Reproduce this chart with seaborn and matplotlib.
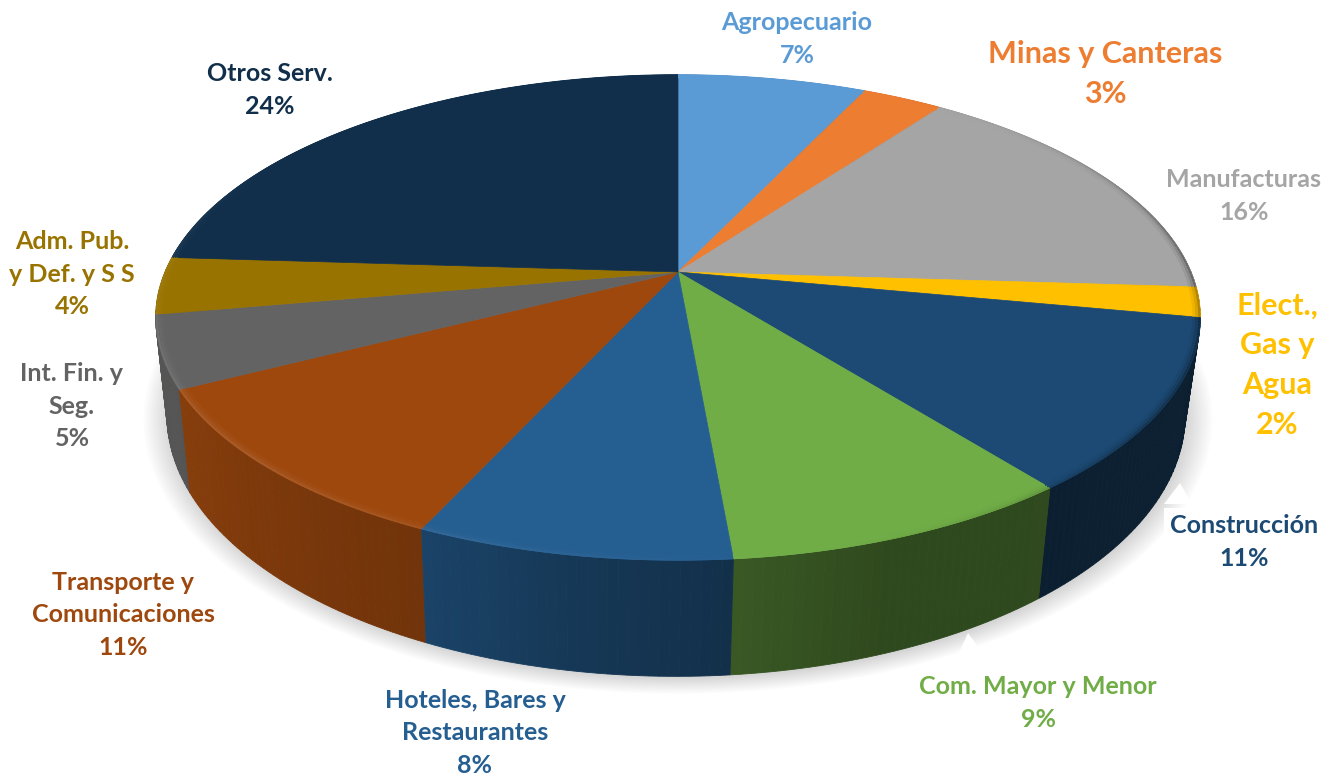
import numpy as np
import seaborn as sns
import matplotlib.pyplot as plt
from matplotlib.collections import LineCollection

# sector data
sectores = ['Agropecuario', 'Minas y Canteras', 'Manufacturas', 'Elect.,\nGas y\nAgua', 'Construcción',
            'Com. Mayor y Menor', 'Hoteles, Bares y\nRestaurantes', 'Transporte y\nComunicaciones',
            'Int. Fin. y\nSeg.', 'Adm. Pub.\ny Def. y S S', 'Otros Serv.']
valores = [7.0, 3.0, 16.0, 2.0, 11.4, 9.2, 8.2, 10.6, 4.8, 3.8, 24.0]
etiquetas = ['7%', '3%', '16%', '2%', '11%', '9%', '8%', '11%', '5%', '4%', '24%']

colores = ['#5b9bd5', '#ed7d31', '#a5a5a5', '#ffc000', '#1c4a74', '#70ad47',
           '#255e91', '#9e480e', '#636363', '#997300', '#112f4b']

# label centre x, y and font size
pos_x = [797, 1105, 1244, 1277, 1244, 1038, 475, 123, 72, 72, 270]
pos_y = [39, 74, 196, 365, 542, 703, 733, 615, 406, 274, 90]
tam = [18, 22, 18, 22, 18, 18, 18, 18, 18, 18, 18]

sns.set_theme(style='white')
plt.rcParams['font.family'] = ['Lato', 'DejaVu Sans']
paleta = sns.color_palette(colores)


# perspective projection of the pie disc to pixels
def proy(t, r=1.0, base=False):
    u, v = r * np.sin(t), r * np.cos(t)
    w = 1 + 0.188 * v
    if base:
        return 676 + 500 * u / w, 366 - 252 * v / w
    return 678 + 513 * u / w, 272 - 234 * v / w


def mezcla(c, otro, f):
    return tuple(np.array(c) * (1 - f) + np.array(otro) * f)


fig, ax = plt.subplots(figsize=(13.36, 7.79), dpi=100)
fig.subplots_adjust(0, 0, 1, 1)
ax.set_xlim(0, 1336)
ax.set_ylim(779, 0)
ax.axis('off')

cortes = 2 * np.pi * np.cumsum([0] + valores) / np.sum(valores)

# soft shadow under the base
t_all = np.linspace(0, 2 * np.pi, 400)
bx, by = proy(t_all, base=True)
for e in np.linspace(1.05, 1.0, 14):
    ax.fill(678 + (bx - 676) * e, 368 + (by - 366) * e, color='black', alpha=0.012, lw=0, zorder=1)

# white callout tips of the label boxes, over the shadow
ax.fill([1180, 1164, 1192], [483, 504, 504], color='white', lw=0, zorder=1.5)
ax.fill([968, 953, 992], [633, 666, 666], color='white', lw=0, zorder=1.5)

# side wall, strips from back to front
f_ang = [60, 120, 160, 190, 205, 245, 262, 300]
f_val = [0.40, 0.43, 0.42, 0.60, 0.72, 0.86, 0.86, 0.86]
tiras = []
for i in range(len(valores)):
    ts = np.linspace(cortes[i], cortes[i + 1], max(int(valores[i] * 4), 3))
    for a, b in zip(ts[:-1], ts[1:]):
        tiras.append((np.cos((a + b) / 2), a, b, i))
tiras.sort(key=lambda s: -s[0])
for _, a, b, i in tiras:
    f = np.interp(np.degrees((a + b) / 2), f_ang, f_val)
    c = mezcla(paleta[i], (0, 0, 0), 1 - f)
    tt = np.linspace(a, b, 4)
    x1, y1 = proy(tt)
    x2, y2 = proy(tt[::-1], base=True)
    ax.fill(np.r_[x1, x2], np.r_[y1, y2], color=c, lw=0.6, zorder=2)

# top of the pie
for i in range(len(valores)):
    tt = np.linspace(cortes[i], cortes[i + 1], 80)
    x, y = proy(tt)
    ax.fill(np.r_[678, x], np.r_[272, y], color=paleta[i], lw=0.5, zorder=3)

# bevel along the rim, light on the left and dark on the right
for r, ancho, peso in [(0.998, 1.6, 0.8), (0.993, 2.0, 0.4), (0.988, 2.0, 0.15)]:
    for i in range(len(valores)):
        tt = np.linspace(cortes[i], cortes[i + 1], 60)
        x, y = proy(tt, r=r)
        pts = np.c_[x, y]
        segs = np.stack([pts[:-1], pts[1:]], axis=1)
        luz = np.clip(np.cos(tt[:-1] - np.radians(235)), 0, 1) ** 3
        somb = np.clip(np.cos(tt[:-1] - np.radians(100)), 0, 1) ** 4
        cols = [mezcla(mezcla(paleta[i], (1, 1, 1), 0.14 * l * peso), (0, 0, 0), 0.5 * s * peso)
                for l, s in zip(luz, somb)]
        ax.add_collection(LineCollection(segs, colors=cols, linewidths=ancho, zorder=4, capstyle='butt'))

# labels
for i in range(len(sectores)):
    caja = None
    if i in (4, 5, 7):
        caja = dict(boxstyle='square,pad=0.25', fc='white', ec='none')
    ax.text(pos_x[i], pos_y[i], sectores[i] + '\n' + etiquetas[i], ha='center', va='center', ma='center',
            fontsize=tam[i], fontweight='bold', color=paleta[i], linespacing=1.51, bbox=caja, zorder=6)

fig.savefig('out.png', dpi=100, facecolor='white')
